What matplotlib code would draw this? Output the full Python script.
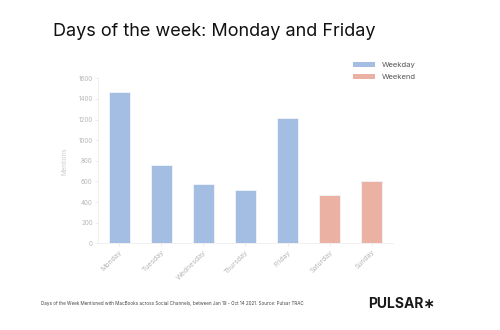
import matplotlib
matplotlib.use("Agg")
from matplotlib import pyplot as plt
from matplotlib.patches import Patch

days = ["Monday", "Tuesday", "Wednesday", "Thursday", "Friday", "Saturday", "Sunday"]
mentions = [1465, 758, 576, 518, 1212, 466, 608]
day_type = ["Weekday", "Weekday", "Weekday", "Weekday", "Weekday", "Weekend", "Weekend"]
y_ticks = [0, 200, 400, 600, 800, 1000, 1200, 1400, 1600]

COLORS = {"Weekday": "#a4bee3", "Weekend": "#ebb2a3"}
LIGHT = "#b8b8b8"

plt.rcParams["font.family"] = ["Inter", "DejaVu Sans"]

fig = plt.figure(figsize=(5, 3.3), dpi=100)
ax = fig.add_axes([0.1966, 0.2627, 0.5888, 0.5])

ax.bar(range(len(days)), mentions, width=0.5,
       color=[COLORS[t] for t in day_type], edgecolor="#f2f5fa", linewidth=0.6)

ax.set_xlim(-0.5, len(days) - 0.5)
ax.set_ylim(0, 1600)
ax.set_yticks(y_ticks)
ax.set_yticklabels([str(v) for v in y_ticks], fontsize=4.5, color=LIGHT)
ax.set_xticks(range(len(days)))
ax.set_xticklabels(days, rotation=45, ha="right", rotation_mode="anchor",
                   fontsize=5, color=LIGHT)
ax.tick_params(axis="both", length=2, width=0.5, color="#e6e6e6", pad=2)
ax.set_ylabel("Mentions", fontsize=4.5, color="#cccccc", labelpad=8)

for side in ["top", "right"]:
    ax.spines[side].set_visible(False)
for side in ["left", "bottom"]:
    ax.spines[side].set_color("#eeeeee")
    ax.spines[side].set_linewidth(0.6)

handles = [Patch(facecolor=COLORS[k], edgecolor="none") for k in ["Weekday", "Weekend"]]
fig.legend(handles, ["Weekday", "Weekend"], loc="upper left",
           bbox_to_anchor=(0.692, 0.834), frameon=False, fontsize=5.5,
           labelcolor="#555555", handlelength=2.9, handleheight=0.65,
           handletextpad=0.9, labelspacing=0.78)

fig.text(0.106, 0.905, "Days of the week: Monday and Friday", fontsize=13,
         color="#111111", va="center", ha="left")
fig.text(0.082, 0.079, "Days of the Week Mentioned with MacBooks across Social Channels, "
         "between Jan 19 - Oct 14 2021. Source: Pulsar TRAC",
         fontsize=3.3, color="#444444", va="center", ha="left")
fig.text(0.736, 0.079, "PULSAR\u2217", fontsize=10, fontweight="bold",
         color="#1a1a1a", va="center", ha="left")

fig.savefig("out.png", dpi=100, facecolor="white")
